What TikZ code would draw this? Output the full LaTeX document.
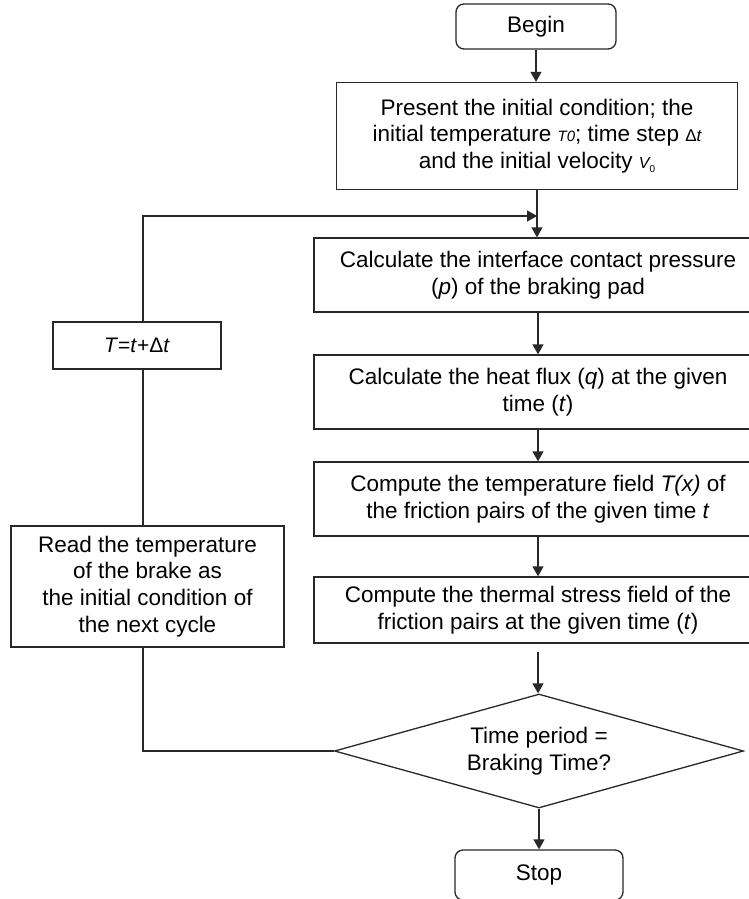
\documentclass[tikz,border=0pt]{standalone}
\usepackage{fontspec}
\setmainfont{Liberation Sans}
\usetikzlibrary{shapes.geometric,arrows.meta}
\definecolor{linec}{RGB}{40,40,40}
\newcommand{\mainsz}{\fontsize{22.5}{26.7}\selectfont}
\begin{document}
\begin{tikzpicture}[x=1pt,y=-1pt,
  box/.style={draw=linec, line width=1.3pt, fill=white, inner sep=0pt, align=center, font=\mainsz, text=black},
  rbox/.style={box, rounded corners=8pt},
  arr/.style={draw=linec, line width=1.3pt, -{Triangle[length=10pt,width=11pt]}},
  ln/.style={draw=linec, line width=1.3pt}]
\useasboundingbox (0,0) rectangle (749,899);
\clip (0,0) rectangle (749,899);

\node[rbox, minimum width=160pt, minimum height=45pt] (begin) at (536,26.5) {Begin};
\node[box, minimum width=401pt, minimum height=107pt] (init) at (537,136)
  {Present the initial condition; the\\
   initial temperature {\fontsize{15}{15}\selectfont\itshape T0}; time step {\fontsize{17}{17}\selectfont Δ\itshape t}\\
   and the initial velocity {\fontsize{16}{16}\selectfont\itshape V}\raisebox{-4pt}{\fontsize{10}{10}\selectfont 0}};
\node[box, minimum width=448pt, minimum height=74pt] (press) at (538,275)
  {Calculate the interface contact pressure\\(\textit{p}) of the braking pad};
\node[box, minimum width=448pt, minimum height=74pt] (flux) at (538,392)
  {Calculate the heat flux (\textit{q}) at the given\\time (\textit{t})};
\node[box, minimum width=448pt, minimum height=74pt] (temp) at (538,499)
  {Compute the temperature field \textit{T(x)} of\\the friction pairs of the given time \textit{t}};
\node[box, minimum width=448pt, minimum height=66pt] (stress) at (538,610)
  {Compute the thermal stress field of the\\friction pairs at the given time (\textit{t})};
\node[box, shape=diamond, aspect=3.59, minimum width=409pt, minimum height=114pt] (dec) at (539,751)
  {Time period =\\Braking Time?};
\node[rbox, minimum width=168pt, minimum height=50pt] (stop) at (539,875) {Stop};

\node[box, minimum width=168pt, minimum height=47pt, font=\fontsize{21}{24}\selectfont] (tbox) at (137,345.5)
  {\textit{T}=\textit{t}+Δ\textit{t}};
\node[box, minimum width=273pt, minimum height=121pt] (read) at (147.5,586.5)
  {Read the temperature\\of the brake as\\the initial condition of\\the next cycle};

\coordinate (lt) at (143,216);
\coordinate (j) at (537,216);

\draw[arr] (begin.south) -- (begin.south |- init.north);
\draw[arr] (init.south) -- (init.south |- press.north);
\draw[arr] (press.south) -- (press.south |- flux.north);
\draw[arr] (flux.south) -- (flux.south |- temp.north);
\draw[arr] (temp.south) -- (temp.south |- stress.north);
\draw[arr, shorten <=8pt] (stress.south) -- (stress.south |- dec.north);
\draw[arr] (dec.south) -- (dec.south |- stop.north);

\draw[ln] (dec.west) -| (read.south -| lt);
\draw[ln] (read.north -| lt) -- (tbox.south -| lt);
\draw[arr] (tbox.north -| lt) |- (j);
\end{tikzpicture}
\end{document}
